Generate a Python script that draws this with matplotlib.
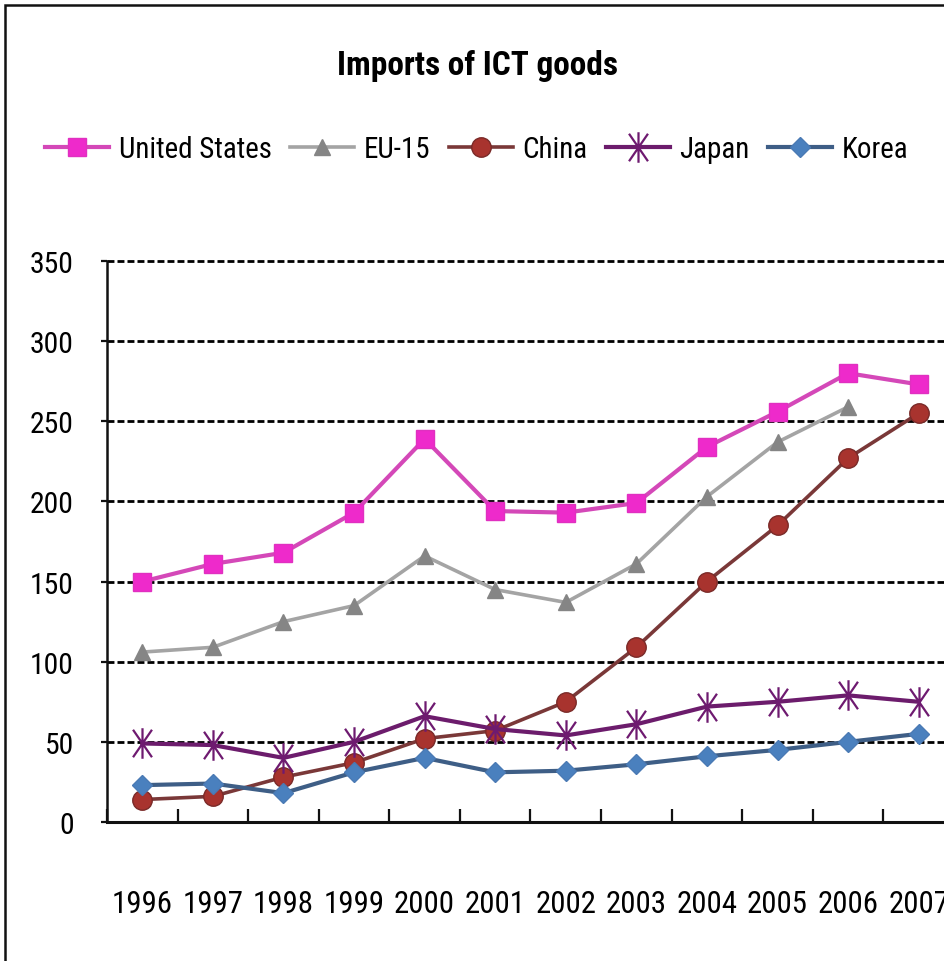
import numpy as np
import matplotlib
matplotlib.use("Agg")
import matplotlib.pyplot as plt
import matplotlib.font_manager as fm
from matplotlib.font_manager import FontProperties
from matplotlib.textpath import TextPath
from matplotlib.path import Path
from matplotlib.patches import Rectangle

years = ["1996", "1997", "1998", "1999", "2000", "2001", "2002", "2003",
         "2004", "2005", "2006", "2007"]
us = [150, 161, 168, 193, 239, 194, 193, 199, 234, 256, 280, 273]
eu15 = [106, 109, 125, 135, 166, 145, 137, 161, 203, 237, 259, np.nan]
china = [14, 16, 28, 37, 52, 57, 75, 109, 150, 185, 227, 255]
japan = [49, 48, 40, 50, 66, 58, 54, 61, 72, 75, 79, 75]
korea = [23, 24, 18, 31, 40, 31, 32, 36, 41, 45, 50, 55]
series_names = ["United States", "EU-15", "China", "Japan", "Korea"]
yticks = [0, 50, 100, 150, 200, 250, 300, 350]
title = "Imports of ICT goods"

DPI = 100
W, H = 945, 962

# ---- choose a narrow / condensed sans font if one is installed ----
family, stretch = "Liberation Sans", "normal"
pref = ["Liberation Sans Narrow", "Roboto Condensed", "Open Sans Condensed",
        "Noto Sans Condensed", "DejaVu Sans Condensed", "Arial Narrow"]
names = {f.name for f in fm.fontManager.ttflist}
found = False
for p in pref:
    if p in names:
        family, stretch, found = p, "normal", True
        break
if not found:
    for f in fm.fontManager.ttflist:
        st = str(f.stretch)
        if st in ("condensed", "semi-condensed", "extra-condensed") or \
                (st.isdigit() and int(st) < 500):
            if any(k in f.name for k in ("Sans", "Roboto", "Lato", "Inter")) and "Mono" not in f.name \
                    and "CJK" not in f.name:
                family, stretch = f.name, f.stretch
                break

plt.rcParams["font.family"] = [family, "Liberation Sans", "DejaVu Sans"]
plt.rcParams["font.stretch"] = stretch


def fit_size(s, width_px, weight="normal"):
    fp = FontProperties(family=family, stretch=stretch, weight=weight)
    w = TextPath((0, 0), s, size=10, prop=fp).get_extents().width  # points at size 10
    return 10 * width_px / (w * DPI / 72.0)


ysize = fit_size("350", 41)
xsize = fit_size("1996", 57)
lsize = fit_size("United States", 150)
tsize = fit_size(title, 278, "bold")

fig = plt.figure(figsize=(W / DPI, H / DPI), dpi=DPI)
fig.patch.set_facecolor("white")

# outer chart frame (cropped on right/bottom)
fig.add_artist(Rectangle((5 / W, -0.1), 1.2, 1 - 6 / H + 0.1, fill=False,
                         lw=1.8, edgecolor="#111111", transform=fig.transFigure))

left, right, bottom, top = 107 / W, 954 / W, 1 - 823 / H, 1 - 262 / H
ax = fig.add_axes([left, bottom, right - left, top - bottom])

x = np.arange(len(years))

# asterisk marker (X plus vertical bar)
ast = Path([(0, -1), (0, 1), (-0.62, -0.9), (0.62, 0.9), (-0.62, 0.9), (0.62, -0.9)],
           [Path.MOVETO, Path.LINETO, Path.MOVETO, Path.LINETO, Path.MOVETO, Path.LINETO])

ax.plot(x, us, color="#D448B8", lw=3.0, marker="s", ms=13.5,
        mfc="#EE2ACB", mec="#E030C0", label=series_names[0], zorder=3)
ax.plot(x, eu15, color="#A4A4A4", lw=2.6, marker="^", ms=12,
        mfc="#858585", mec="#858585", label=series_names[1], zorder=3)
ax.plot(x, china, color="#7A3838", lw=2.6, marker="o", ms=14,
        mfc="#A8332E", mec="#7A2A28", label=series_names[2], zorder=3)
ax.plot(x, japan, color="#6C1C6C", lw=3.0, marker=ast, ms=22,
        mfc="none", mec="#6E1A70", mew=1.6, label=series_names[3], zorder=3)
ax.plot(x, korea, color="#3E5E86", lw=3.0, marker="D", ms=10,
        mfc="#4A80BE", mec="#4A7AB4", label=series_names[4], zorder=3)

ax.set_xlim(-0.5, len(years) - 0.5)
ax.set_ylim(0, 350)
ax.set_yticks(yticks)
ax.set_yticklabels([str(v) for v in yticks])
ax.set_xticks(x)
ax.set_xticklabels(years)
ax.set_xticks(np.arange(len(years) + 1) - 0.5, minor=True)

for s in ["top", "right"]:
    ax.spines[s].set_visible(False)
ax.spines["left"].set_linewidth(1.8)
ax.spines["bottom"].set_linewidth(2.2)
ax.spines["left"].set_color("#111111")
ax.spines["bottom"].set_color("#111111")

ax.tick_params(axis="x", which="major", length=0, pad=48, labelsize=xsize)
ax.tick_params(axis="x", which="minor", direction="in", length=9.5, width=1.6,
               color="#111111")
ax.tick_params(axis="y", direction="out", length=4, width=1.6, pad=20,
               labelsize=ysize, color="#111111")

for v in yticks[1:]:
    ax.axhline(v, color="black", lw=2.0, ls=(0, (2.5, 1.1)), zorder=1, clip_on=False)

fig.text(478 / W, 1 - 66 / H, title, ha="center", va="center",
         fontsize=tsize, fontweight="bold")

lpx = lsize * DPI / 72.0
fig.legend(loc="center left", bbox_to_anchor=(45 / W, 1 - 150 / H), ncol=5,
           frameon=False, fontsize=lsize, handlelength=64 / lpx,
           handletextpad=10 / lpx, columnspacing=18 / lpx,
           borderpad=0, borderaxespad=0)

fig.savefig("out.png", dpi=DPI, facecolor="white")
